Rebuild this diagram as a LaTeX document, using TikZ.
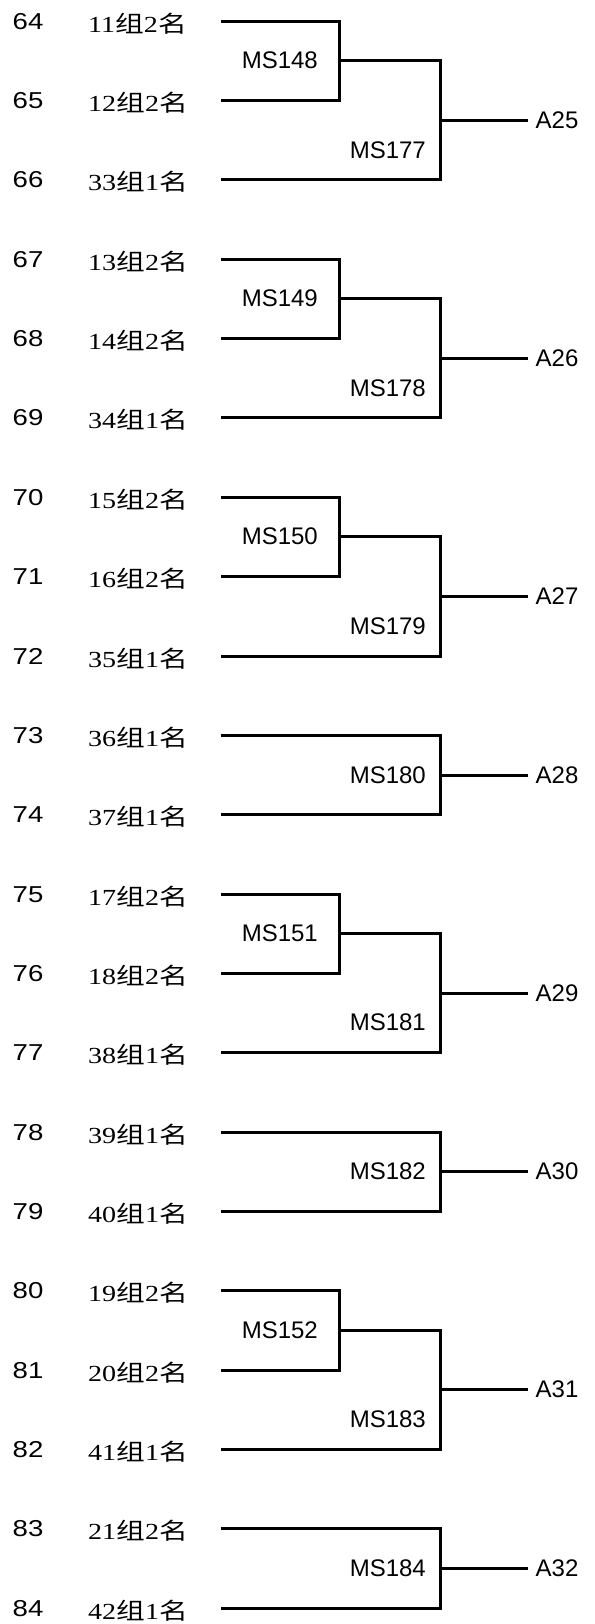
\documentclass[tikz,border=0pt]{standalone}
\usepackage{fontspec}
\newfontfamily\arialf{Liberation Sans}
\newfontfamily\numf[FakeStretch=1.2]{Liberation Sans}
\newfontfamily\seriff[FakeStretch=1.22]{Liberation Serif}
\newfontfamily\cjkf[FakeStretch=1.25]{Noto Sans CJK SC}
\newcommand\R[1]{round(20.7+(#1-64)*79.35)+0.5}
\newcommand\lab[2]{{\seriff #1}{\cjkf 组}{\seriff #2}{\cjkf 名}}
\tikzset{
  br/.style={line width=3pt},
  numlab/.style={anchor=west,inner sep=0pt,font=\numf\fontsize{23}{23}\selectfont},
  cjklab/.style={anchor=west,inner sep=0pt,font=\fontsize{23}{23}\selectfont},
  mslab/.style={anchor=east,inner sep=0pt,font=\arialf\fontsize{24}{24}\selectfont},
  alab/.style={anchor=west,inner sep=0pt,font=\arialf\fontsize{24}{24}\selectfont},
}
\newcommand\tri[6]{%
  \coordinate (j#4) at (339.5,{\R{#1+0.5}});
  \coordinate (j#5) at (440.5,{\R{#1+1.25}});
  \coordinate (o#6) at (528,{\R{#1+1.25}});
  \node[mslab] (m#4) at (318,{\R{#1+0.5}}) {MS#4};
  \node[mslab] (m#5) at (426,{\R{#1+1.625}}) {MS#5};
  \node[alab] (a#6) at (535.5,{\R{#1+1.25}}) {A#6};
  \draw[br] (e#1) -| (j#4) |- (e#2);
  \draw[br] (j#4) -| (j#5) |- (e#3);
  \draw[br] (j#5) -- (o#6);
}
\newcommand\duo[4]{%
  \coordinate (j#3) at (440.5,{\R{#1+0.5}});
  \coordinate (o#4) at (528,{\R{#1+0.5}});
  \node[mslab] (m#3) at (426,{\R{#1+0.5}}) {MS#3};
  \node[alab] (a#4) at (535.5,{\R{#1+0.5}}) {A#4};
  \draw[br] (e#1) -| (j#3) |- (e#2);
  \draw[br] (j#3) -- (o#4);
}
\begin{document}
\begin{tikzpicture}[x=1pt,y=-1pt]
\useasboundingbox (0,0) rectangle (594,1624);
\foreach \n/\a/\b in {64/11/2,65/12/2,66/33/1,67/13/2,68/14/2,69/34/1,70/15/2,71/16/2,72/35/1,73/36/1,74/37/1,75/17/2,76/18/2,77/38/1,78/39/1,79/40/1,80/19/2,81/20/2,82/41/1,83/21/2,84/42/1}{
  \node[numlab] (n\n) at (12.5,{\R{\n}}) {\n};
  \node[cjklab] (t\n) at (88,{\R{\n}+2}) {\lab{\a}{\b}};
  \coordinate (e\n) at (220.5,{\R{\n}});
}
\tri{64}{65}{66}{148}{177}{25}
\tri{67}{68}{69}{149}{178}{26}
\tri{70}{71}{72}{150}{179}{27}
\duo{73}{74}{180}{28}
\tri{75}{76}{77}{151}{181}{29}
\duo{78}{79}{182}{30}
\tri{80}{81}{82}{152}{183}{31}
\duo{83}{84}{184}{32}
\end{tikzpicture}
\end{document}
